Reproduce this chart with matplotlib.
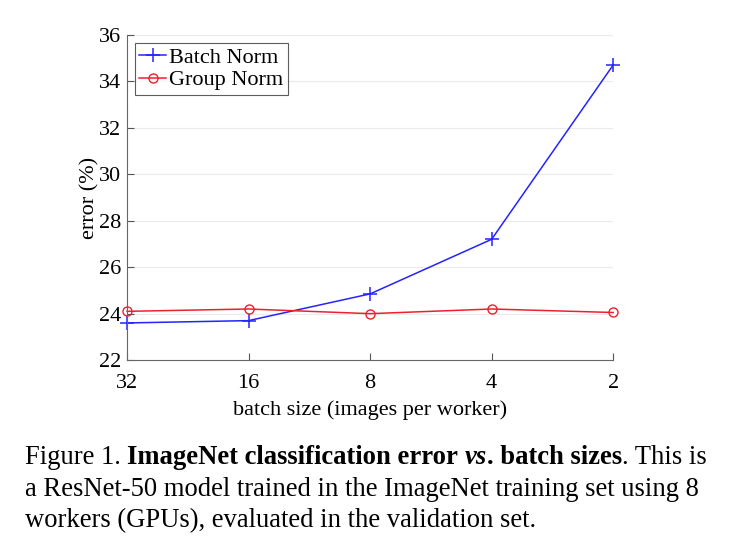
import matplotlib
matplotlib.use("Agg")
import matplotlib.pyplot as plt

plt.rcParams['font.family'] = ['Liberation Serif', 'DejaVu Serif']

batch_sizes = ['32', '16', '8', '4', '2']
bn_error = [23.6, 23.7, 24.85, 27.2, 34.7]
gn_error = [24.1, 24.2, 24.0, 24.2, 24.05]

fig = plt.figure(figsize=(7.4, 5.44), dpi=100)
ax = fig.add_axes([0.1716, 0.338, 0.657, 0.598])

x = list(range(len(batch_sizes)))
ax.plot(x, bn_error, color='#2424ff', marker='+', markersize=10, markeredgewidth=1.1,
        linewidth=1.1, label='Batch Norm', clip_on=False)
ax.plot(x, gn_error, color='#ee2030', marker='o', markersize=6.5, markerfacecolor='none',
        markeredgewidth=1.0, linewidth=1.1, label='Group Norm', clip_on=False)

ax.set_xlim(0, 4)
ax.set_ylim(22, 36)
ax.set_xticks(x)
ax.set_xticklabels(batch_sizes)
ax.set_yticks(range(22, 37, 2))
ax.yaxis.grid(True, color='#ebebeb', linewidth=0.8)
ax.set_axisbelow(True)
ax.tick_params(direction='in', labelsize=16, length=5, color='#555555', pad=4)
ax.tick_params(axis='x', pad=10)
for s in ['top', 'right']:
    ax.spines[s].set_visible(False)
for s in ['left', 'bottom']:
    ax.spines[s].set_color('#666666')
ax.set_xlabel('batch size (images per worker)', fontsize=16, labelpad=5)
ax.set_ylabel('error (%)', fontsize=16, labelpad=0)

leg = ax.legend(loc='upper left', fontsize=16, frameon=True, fancybox=False,
                handlelength=1.2, handletextpad=0.15, borderpad=0.2, labelspacing=0.1,
                borderaxespad=0.35)
leg.get_frame().set_edgecolor('#333333')
leg.get_frame().set_linewidth(0.8)

# caption, made of runs with mixed weights
cap_size = 19.2
runs1 = [('Figure 1. ', 'normal', 'normal'),
         ('ImageNet classification error ', 'bold', 'normal'),
         ('vs', 'bold', 'italic'),
         ('. batch sizes', 'bold', 'normal'),
         ('. This is', 'normal', 'normal')]
fig.canvas.draw()
r = fig.canvas.get_renderer()
xpos = 25 / 740
y1 = 1 - 457 / 544
for txt, w, st in runs1:
    t = fig.text(xpos, y1, txt, fontsize=cap_size, fontweight=w, fontstyle=st, va='center')
    bb = t.get_window_extent(renderer=r)
    xpos = (bb.x1) / fig.bbox.width
fig.text(25 / 740, 1 - 489 / 544,
         'a ResNet-50 model trained in the ImageNet training set using 8',
         fontsize=cap_size, va='center')
fig.text(25 / 740, 1 - 521 / 544,
         'workers (GPUs), evaluated in the validation set.',
         fontsize=cap_size, va='center')

fig.savefig('out.png', dpi=100)
